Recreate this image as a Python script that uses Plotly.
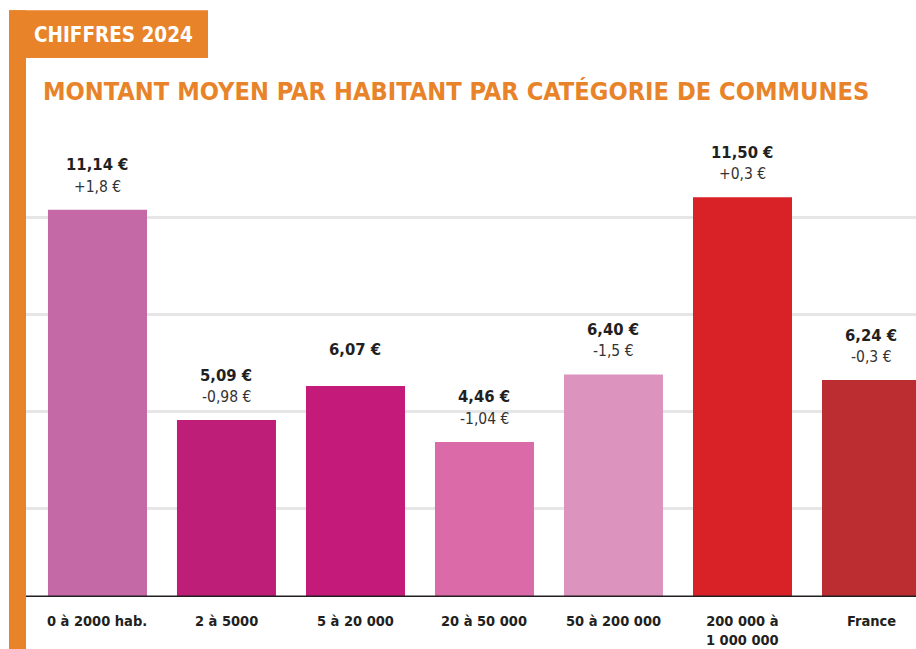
import plotly.graph_objects as go

# ---- data ----
categories = ["0 à 2000 hab.", "2 à 5000", "5 à 20 000", "20 à 50 000",
              "50 à 200 000", "200 000 à<br>1 000 000", "France"]
values = [11.14, 5.09, 6.07, 4.46, 6.40, 11.50, 6.24]
value_labels = ["11,14 €", "5,09 €", "6,07 €", "4,46 €", "6,40 €", "11,50 €", "6,24 €"]
change_labels = ["+1,8 €", "-0,98 €", "", "-1,04 €", "-1,5 €", "+0,3 €", "-0,3 €"]
tag_text = "CHIFFRES 2024"
title_text = "MONTANT MOYEN PAR HABITANT PAR CATÉGORIE DE COMMUNES"

# ---- styles ----
bar_colors = ["#c468a6", "#be1e78", "#c41a79", "#da6aa8", "#dc94bf", "#d92128", "#bb2d30"]
ORANGE = "#e8832a"
DARK = "#231f20"
FONT = "Liberation Sans Narrow, Arial Narrow, DejaVu Sans Condensed, sans-serif"

W, H = 916, 649
ML, MR, MT, MB = 26, 0, 145, 51.5
PW, PH = W - ML - MR, H - MT - MB

def px_to_paper_x(px):
    return (px - ML) / PW

def px_to_paper_y(py):
    return (H - MB - py) / PH

fig = go.Figure()
fig.add_trace(go.Bar(
    x=categories, y=values,
    marker=dict(color=bar_colors, line=dict(width=0)),
    hoverinfo="skip",
))

annotations = []
for cat, v, vl, cl in zip(categories, values, value_labels, change_labels):
    if cl:
        annotations.append(dict(x=cat, y=v, xref="x", yref="y", text=f"<b>{vl}</b>",
                                showarrow=False, yanchor="middle", yshift=45,
                                font=dict(family=FONT, size=16.5, color=DARK)))
        annotations.append(dict(x=cat, y=v, xref="x", yref="y", text=cl,
                                showarrow=False, yanchor="middle", yshift=23,
                                font=dict(family=FONT, size=15.5, color="#333333")))
    else:
        annotations.append(dict(x=cat, y=v, xref="x", yref="y", text=f"<b>{vl}</b>",
                                showarrow=False, yanchor="middle", yshift=36,
                                font=dict(family=FONT, size=16.5, color=DARK)))
    annotations.append(dict(x=cat, y=0, xref="x", yref="y", text=f"<b>{cat}</b>",
                            showarrow=False, yanchor="top", yshift=-14,
                            font=dict(family=FONT, size=14.5, color=DARK)))

# header tag text and title
annotations.append(dict(x=px_to_paper_x(32), y=px_to_paper_y(35), xref="paper", yref="paper",
                        text=f"<b>{tag_text}</b>", showarrow=False, xanchor="left", yanchor="middle",
                        font=dict(family=FONT, size=20.5, color="white")))
annotations.append(dict(x=px_to_paper_x(41), y=px_to_paper_y(91), xref="paper", yref="paper",
                        text=f"<b>{title_text}</b>", showarrow=False, xanchor="left", yanchor="middle",
                        font=dict(family=FONT, size=25.2, color=ORANGE)))

shapes = [
    # orange tag
    dict(type="rect", xref="paper", yref="paper", x0=px_to_paper_x(9), x1=px_to_paper_x(208),
         y0=px_to_paper_y(58), y1=px_to_paper_y(10), fillcolor=ORANGE, line=dict(width=0), layer="below"),
    # orange vertical bar
    dict(type="rect", xref="paper", yref="paper", x0=px_to_paper_x(9), x1=px_to_paper_x(26),
         y0=px_to_paper_y(H + 5), y1=px_to_paper_y(10), fillcolor=ORANGE, line=dict(width=0), layer="below"),
    # baseline
    dict(type="line", xref="paper", yref="y", x0=0, x1=1, y0=0, y1=0,
         line=dict(color=DARK, width=3), layer="above"),
]

fig.update_layout(
    width=W, height=H,
    margin=dict(l=ML, r=MR, t=MT, b=MB, pad=0),
    paper_bgcolor="white", plot_bgcolor="white",
    bargap=0.2326,
    showlegend=False,
    annotations=annotations,
    shapes=shapes,
    xaxis=dict(type="category", range=[-0.554, 6.345], showticklabels=False,
               showgrid=False, zeroline=False, showline=False, fixedrange=True),
    yaxis=dict(range=[0, 13], showticklabels=False, showgrid=True, gridcolor="#e6e6e6",
               gridwidth=3, tick0=2.54, dtick=2.79, zeroline=False, showline=False,
               fixedrange=True),
)

fig.write_html("out.html", config={"displayModeBar": False},
               post_script="document.body.style.margin='0';document.body.style.overflow='hidden';")
